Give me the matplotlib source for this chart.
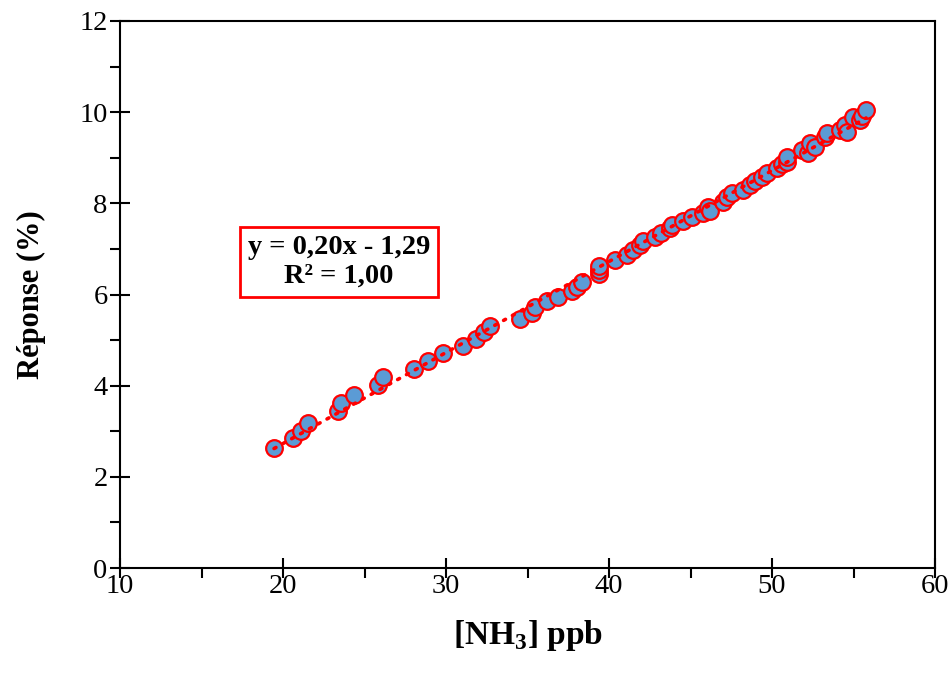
import matplotlib
matplotlib.use("Agg")
import matplotlib.pyplot as plt
from matplotlib.ticker import MultipleLocator
import numpy as np

plt.rcParams['font.family'] = ['Liberation Serif', 'DejaVu Serif']
plt.rcParams['mathtext.fontset'] = 'custom'
plt.rcParams['mathtext.rm'] = 'Liberation Serif'
plt.rcParams['mathtext.bf'] = 'Liberation Serif:bold'

# [NH3] (ppb) vs sensor response (%)
nh3 = [19.45, 20.61, 21.10, 21.53, 23.37, 23.56, 24.36, 25.83, 26.13, 28.04,
       28.90, 29.82, 31.04, 31.84, 32.33, 32.70, 34.54, 35.28, 35.46, 36.20,
       36.87, 37.73, 38.04, 38.34, 39.39, 39.39, 39.39, 40.37, 41.10, 41.47,
       41.90, 42.09, 42.82, 43.19, 43.74, 43.87, 44.54, 45.09, 45.77, 46.07,
       46.20, 46.99, 47.24, 47.55, 48.22, 48.65, 48.96, 49.39, 49.69, 50.31,
       50.61, 50.92, 50.92, 51.84, 52.21, 52.33, 52.64, 53.25, 53.37, 54.17,
       54.48, 54.60, 54.97, 55.40, 55.52, 55.77]
reponse = [2.63, 2.85, 3.01, 3.18, 3.44, 3.62, 3.80, 4.01, 4.19, 4.37,
           4.54, 4.72, 4.87, 5.02, 5.18, 5.31, 5.46, 5.59, 5.73, 5.86,
           5.95, 6.08, 6.17, 6.27, 6.45, 6.54, 6.63, 6.76, 6.87, 6.98,
           7.09, 7.17, 7.26, 7.35, 7.46, 7.53, 7.61, 7.70, 7.79, 7.92,
           7.83, 8.03, 8.14, 8.23, 8.29, 8.40, 8.49, 8.58, 8.67, 8.78,
           8.86, 8.91, 9.02, 9.17, 9.10, 9.32, 9.24, 9.46, 9.54, 9.61,
           9.72, 9.57, 9.89, 9.83, 9.92, 10.05]

fig = plt.figure(figsize=(9.51, 6.75), dpi=100)
ax = fig.add_axes([0.1262, 0.1585, 0.857, 0.8104])

ax.plot(nh3, reponse, 'o', ms=12, mfc='#5B9BD5', mec='red', mew=1.6, zorder=2)

# linear trendline
p = np.polyfit(nh3, reponse, 1)
xs = np.array([min(nh3), max(nh3)])
ax.plot(xs, np.polyval(p, xs), color='red', lw=2.6, linestyle=(0, (0.6, 2.2)),
        dash_capstyle='round', zorder=3)

ax.text(0.2687, 0.5594, 'y = 0,20x - 1,29\nR² = 1,00', transform=ax.transAxes,
        ha='center', va='center', fontsize=20.5, fontweight='bold', linespacing=1.2,
        bbox=dict(boxstyle='square,pad=0.28', fc='white', ec='red', lw=2))

ax.set_xlim(10, 60)
ax.set_ylim(0, 12)
ax.xaxis.set_major_locator(MultipleLocator(10))
ax.xaxis.set_minor_locator(MultipleLocator(5))
ax.yaxis.set_major_locator(MultipleLocator(2))
ax.yaxis.set_minor_locator(MultipleLocator(1))
ax.tick_params(which='major', direction='inout', length=14, width=1.5, labelsize=20.5)
ax.tick_params(axis='x', which='major', pad=-3)
ax.tick_params(axis='y', which='major', pad=2)
ax.tick_params(which='minor', direction='out', length=7, width=1.5)
for s in ax.spines.values():
    s.set_linewidth(1.5)

ax.set_xlabel(r'[NH$_\mathbf{3}$] ppb', fontsize=24, fontweight='bold', labelpad=14)
ax.set_ylabel('Réponse (%)', fontsize=22, fontweight='bold', labelpad=24)

plt.savefig('out.png', dpi=100)
